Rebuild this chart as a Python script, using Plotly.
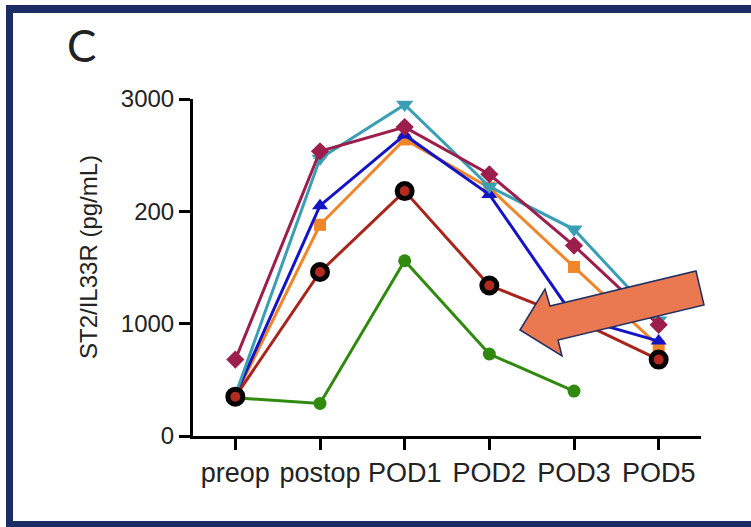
import plotly.graph_objects as go

# Sampling time points
timepoints = ["preop", "postop", "POD1", "POD2", "POD3", "POD5"]

# ST2/IL33R concentration (pg/mL) per patient
patient_green = [340, 290, 1560, 730, 400, None]
patient_orange = [355, 1880, 2640, 2210, 1505, 800]
patient_blue = [360, 2050, 2680, 2150, 1060, 845]
patient_cyan = [365, 2470, 2950, 2220, 1840, 1030]
patient_magenta = [680, 2535, 2750, 2330, 1695, 990]
patient_red = [350, 1460, 2180, 1340, 1040, 680]

# Y tick labels as printed on the axis
ytick_values = [0, 1000, 2000, 3000]
ytick_labels = ["0", "1000", "200", "3000"]

W, H = 751, 527
ML, MR, MT, MB = 193, 50, 99, 91
PW, PH = W - ML - MR, H - MT - MB


def px(x):
    return (x - ML) / PW


def py(y):
    return (H - MB - y) / PH


series = [
    ("green", patient_green, "#2f8a0e", dict(symbol="circle", size=13, color="#2f8a0e")),
    ("orange", patient_orange, "#f0852a", dict(symbol="square", size=12, color="#f0852a")),
    ("blue", patient_blue, "#1414c4", dict(symbol="triangle-up", size=14, color="#1414c4")),
    ("cyan", patient_cyan, "#3a9fb5", dict(symbol="triangle-down", size=15, color="#3a9fb5")),
    ("magenta", patient_magenta, "#9b1e4b", dict(symbol="diamond", size=14, color="#9b1e4b")),
    ("red", patient_red, "#a8251c",
     dict(symbol="circle", size=15, color="#b52a1f", line=dict(color="#000000", width=5))),
]

fig = go.Figure()
for name, vals, col, mk in series:
    fig.add_trace(go.Scatter(
        x=timepoints, y=vals, name=name, mode="lines+markers",
        line=dict(color=col, width=3), marker=mk, cliponaxis=False,
        connectgaps=False,
    ))

shapes = []
navy = "#1b2b63"
# panel frame
for (x0, y0, x1, y1) in [(6, 5, 13, 527), (6, 5, 751, 13), (6, 521, 751, 527)]:
    shapes.append(dict(type="rect", xref="paper", yref="paper",
                       x0=px(x0), x1=px(x1), y0=py(y1), y1=py(y0),
                       fillcolor=navy, line=dict(width=0), layer="above"))

# highlight arrow
arrow_pts = [(520, 330), (545, 289), (550, 306), (696, 271), (704, 305),
             (558, 340), (562, 356)]
path = "M " + " L ".join(f"{px(x):.5f},{py(y):.5f}" for x, y in arrow_pts) + " Z"
shapes.append(dict(type="path", xref="paper", yref="paper", path=path,
                   fillcolor="#ea7850", line=dict(color="#1f3064", width=1.5),
                   layer="above"))

annotations = [
    dict(text="C", xref="paper", yref="paper", x=px(81), y=py(45),
         showarrow=False, xanchor="center", yanchor="middle",
         font=dict(family="Lato", size=44, color="#222222")),
    dict(text="ST2/IL33R (pg/mL)", xref="paper", yref="paper", x=px(88), y=py(257),
         showarrow=False, xanchor="center", yanchor="middle", textangle=-90,
         font=dict(family="Liberation Sans", size=24, color="#222222")),
]

fig.update_layout(
    width=W, height=H,
    margin=dict(l=ML, r=MR, t=MT, b=MB),
    paper_bgcolor="white", plot_bgcolor="white",
    showlegend=False,
    shapes=shapes, annotations=annotations,
    xaxis=dict(type="category", range=[-0.5, 5.5], showline=True, linecolor="black",
               linewidth=3, ticks="outside", ticklen=11, tickwidth=3, tickcolor="black",
               showgrid=False, zeroline=False,
               tickfont=dict(family="Liberation Sans", size=27, color="#222222")),
    yaxis=dict(range=[0, 3000], showline=True, linecolor="black", linewidth=3,
               ticks="outside", ticklen=11, tickwidth=3, tickcolor="black",
               tickvals=ytick_values, ticktext=ytick_labels,
               showgrid=False, zeroline=False,
               tickfont=dict(family="Liberation Sans", size=24, color="#222222")),
)

fig.write_html("out.html")
